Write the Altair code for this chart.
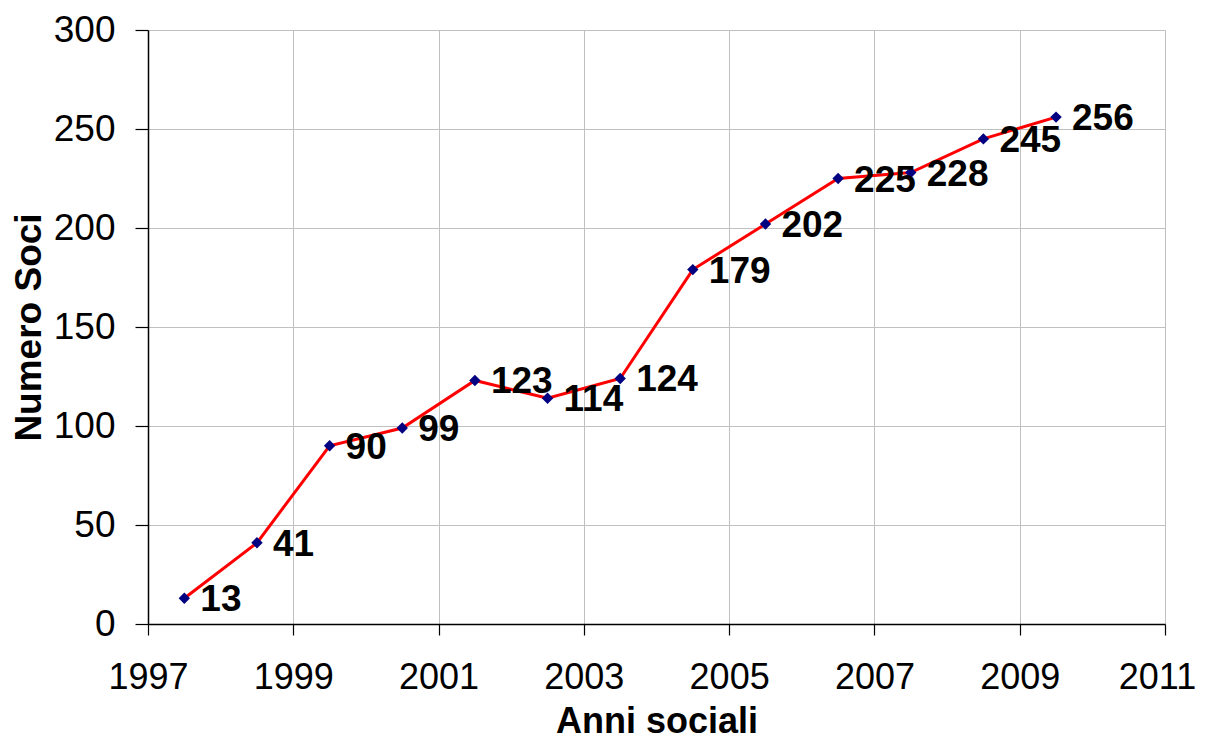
import altair as alt
import pandas as pd

anni = [1997.5, 1998.5, 1999.5, 2000.5, 2001.5, 2002.5, 2003.5,
        2004.5, 2005.5, 2006.5, 2007.5, 2008.5, 2009.5]
soci = [13, 41, 90, 99, 123, 114, 124, 179, 202, 225, 228, 245, 256]
x_ticks = [1997, 1999, 2001, 2003, 2005, 2007, 2009, 2011]
y_ticks = [0, 50, 100, 150, 200, 250, 300]

df = pd.DataFrame({"anno": anni, "soci": soci})

FONT = "Liberation Sans"
H = 594

x = alt.X("anno:Q",
          scale=alt.Scale(domain=[1997, 2011], nice=False, zero=False),
          axis=alt.Axis(values=x_ticks, format="d", title="Anni sociali",
                        grid=True, gridColor="#c0c0c0", gridWidth=1,
                        domainColor="#000000", domainWidth=1.5,
                        tickColor="#000000", tickSize=11, tickWidth=1.2,
                        labelFont=FONT, labelFontSize=36, labelColor="#000000",
                        labelBaseline="middle", labelPadding=42,
                        labelOffset={"condition": {"test": "datum.value == 2011",
                                                   "value": -8},
                                     "value": 0},
                        labelFlush=False, labelOverlap=False,
                        titleFont=FONT, titleFontSize=36, titleFontWeight="bold",
                        titleColor="#000000", titleBaseline="alphabetic",
                        titleY=108))
y = alt.Y("soci:Q",
          scale=alt.Scale(domain=[0, 300], nice=False),
          axis=alt.Axis(values=y_ticks, title="Numero Soci",
                        grid=True, gridColor="#c0c0c0", gridWidth=1,
                        domainColor="#000000", domainWidth=1.5,
                        tickColor="#000000", tickSize=13, tickWidth=1.2,
                        labelFont=FONT, labelFontSize=37, labelColor="#000000",
                        labelPadding=20, labelFlush=False, labelOverlap=False,
                        titleFont=FONT, titleFontSize=37, titleFontWeight="bold",
                        titleColor="#000000", titleAngle=-90,
                        titleBaseline="middle", titleAlign="center",
                        titleX=-119, titleY=H / 2))

base = alt.Chart(df)

line = base.mark_line(color="#ff0000", strokeWidth=3).encode(x=x, y=y)
points = base.mark_point(shape="diamond", filled=True, color="#000080",
                         size=130, opacity=1).encode(x=x, y=y)
labels = base.mark_text(align="left", baseline="middle", dx=16, dy=2,
                        font=FONT, fontSize=37, fontWeight="bold",
                        color="#000000").encode(x=x, y=y, text="soci:Q")

chart = (line + points + labels).properties(
    width=1017, height=H,
    autosize=alt.AutoSizeParams(type="none"),
    padding={"left": 140, "top": 22, "right": 33, "bottom": 116},
).configure_view(stroke="#808080", strokeWidth=2).configure(background="#ffffff")

chart.save("out.html", embed_options={"renderer": "svg", "actions": False})
